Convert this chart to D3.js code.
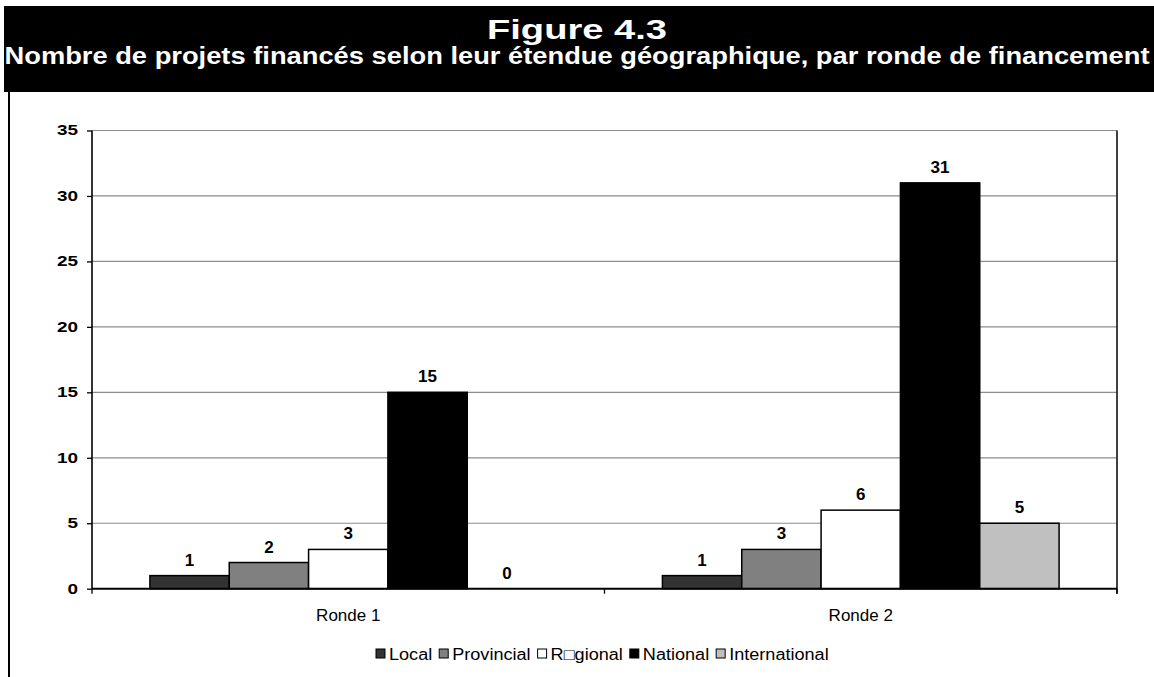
<!DOCTYPE html>
<html>
<head>
<meta charset="utf-8">
<script src="https://cdn.jsdelivr.net/npm/d3@7"></script>
<style>
  html, body { margin: 0; padding: 0; background: #fff; }
  svg { display: block; font-family: "Liberation Sans", Arial, sans-serif; }
</style>
</head>
<body>
<svg id="chart" width="1154" height="677"></svg>
<script>
// Funded projects by geographic scope, per funding round
const rounds = ["Ronde 1", "Ronde 2"];
const scopes = ["Local", "Provincial", "R\u25A1gional", "National", "International"];
const local = [1, 1];
const provincial = [2, 3];
const regional = [3, 6];
const national = [15, 31];
const international = [0, 5];
const yTicks = [0, 5, 10, 15, 20, 25, 30, 35];
const fills = ["#333333", "#808080", "#ffffff", "#000000", "#c0c0c0"];

const seriesValues = [local, provincial, regional, national, international];
const rows = rounds.map((r, i) => ({
  round: r,
  values: scopes.map((s, k) => ({ scope: s, value: seriesValues[k][i], fill: fills[k] }))
}));

const svg = d3.select("#chart");
const W = 1154, H = 677;

// Widen a text element horizontally by a factor; returns the new width
function widen(sel, factor) {
  let w = 0;
  sel.each(function () {
    const len = this.getComputedTextLength();
    w = len * factor;
    d3.select(this).attr("textLength", w).attr("lengthAdjust", "spacingAndGlyphs");
  });
  return w;
}

// Header band with title
svg.append("rect").attr("x", 4).attr("y", 6).attr("width", W - 4).attr("height", 86).attr("fill", "#000");
svg.append("text").attr("x", 577).attr("y", 39).attr("text-anchor", "middle")
  .attr("fill", "#fff").attr("font-weight", "bold").attr("font-size", 27)
  .attr("textLength", 180).attr("lengthAdjust", "spacingAndGlyphs")
  .text("Figure 4.3");
svg.append("text").attr("x", 577).attr("y", 64).attr("text-anchor", "middle")
  .attr("fill", "#fff").attr("font-weight", "bold").attr("font-size", 23)
  .attr("textLength", 1145).attr("lengthAdjust", "spacingAndGlyphs")
  .text("Nombre de projets financés selon leur étendue géographique, par ronde de financement");

// Left frame line
svg.append("line").attr("x1", 9).attr("x2", 9).attr("y1", 92).attr("y2", H)
  .attr("stroke", "#000").attr("stroke-width", 2);

// Plot area
const plot = { left: 92, right: 1117, top: 130.5, bottom: 588.7 };

const x0 = d3.scaleBand().domain(rounds).range([plot.left, plot.right]).padding(0);
const x1 = d3.scaleBand().domain(scopes).range([0, x0.bandwidth()]).paddingInner(0).paddingOuter(0.73);
const y = d3.scaleLinear().domain([0, 35]).range([plot.bottom, plot.top]);

// Gridlines
svg.append("g").selectAll("line").data(yTicks.filter(d => d > 0)).join("line")
  .attr("x1", plot.left).attr("x2", plot.right)
  .attr("y1", d => y(d)).attr("y2", d => y(d))
  .attr("stroke", "#8c8c8c").attr("stroke-width", 1.2);

// Right frame of plot area
svg.append("line").attr("x1", plot.right).attr("x2", plot.right)
  .attr("y1", plot.top).attr("y2", plot.bottom + 5)
  .attr("stroke", "#111").attr("stroke-width", 1.6);

// Bars
const groups = svg.append("g").selectAll("g").data(rows).join("g")
  .attr("transform", d => `translate(${x0(d.round)},0)`);
groups.selectAll("rect").data(d => d.values).join("rect")
  .attr("x", d => x1(d.scope))
  .attr("width", x1.bandwidth())
  .attr("y", d => y(d.value))
  .attr("height", d => y(0) - y(d.value))
  .attr("fill", d => d.fill)
  .attr("stroke", d => d.value > 0 ? "#000" : "none")
  .attr("stroke-width", 1.5);

// Value labels
groups.selectAll("text").data(d => d.values).join("text")
  .attr("x", d => x1(d.scope) + x1.bandwidth() / 2)
  .attr("y", d => y(d.value) - 10)
  .attr("text-anchor", "middle")
  .attr("font-weight", "bold").attr("font-size", 17)
  .attr("fill", "#000")
  .text(d => d.value);

// Y axis
const yAxis = svg.append("g").attr("transform", `translate(${plot.left},0)`)
  .call(d3.axisLeft(y).tickValues(yTicks).tickSize(5).tickPadding(9).tickFormat(d3.format("d")));
yAxis.select(".domain").attr("stroke", "#000").attr("stroke-width", 1.6).attr("d", `M0,${plot.top}V${plot.bottom}`);
yAxis.selectAll(".tick line").attr("stroke", "#000").attr("stroke-width", 1.3);
yAxis.selectAll(".tick text").attr("font-size", 14).attr("font-weight", "bold")
  .attr("fill", "#000").attr("font-family", "Liberation Sans, Arial, sans-serif")
  .each(function () { widen(d3.select(this), 1.35); });

// X axis
const xAxis = svg.append("g").attr("transform", `translate(0,${plot.bottom})`)
  .call(d3.axisBottom(x0).tickSize(0).tickPadding(20));
xAxis.select(".domain").attr("stroke", "#000").attr("stroke-width", 2).attr("d", `M${plot.left},0H${plot.right}`);
xAxis.selectAll(".tick text").attr("font-size", 17).attr("fill", "#000")
  .attr("font-family", "Liberation Sans, Arial, sans-serif");
// Category separators
const bounds = [plot.left, ...rounds.slice(1).map(r => x0(r)), plot.right];
xAxis.append("g").selectAll("line").data(bounds).join("line")
  .attr("x1", d => d).attr("x2", d => d).attr("y1", 0).attr("y2", 5)
  .attr("stroke", "#000").attr("stroke-width", 1.3);

// Legend
const legend = svg.append("g").attr("transform", "translate(0,654)");
let lx = 376;
scopes.forEach((s, k) => {
  legend.append("rect").attr("x", lx).attr("y", -5).attr("width", 9).attr("height", 9)
    .attr("fill", fills[k]).attr("stroke", "#000").attr("stroke-width", 1);
  const t = legend.append("text").attr("x", lx + 13).attr("y", 6)
    .attr("font-size", 16).attr("fill", "#000").text(s);
  const w = widen(t, 1.13);
  lx += 13 + w + 7;
});
</script>
</body>
</html>
